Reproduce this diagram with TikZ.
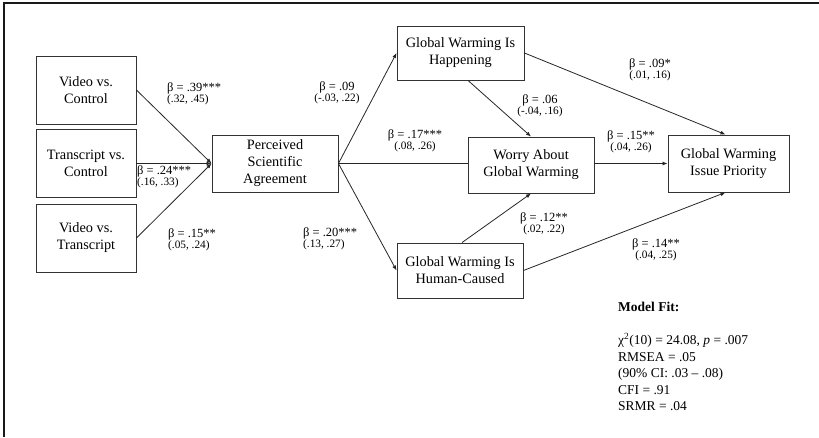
\documentclass[tikz,border=0pt]{standalone}
\usepackage{fontspec}
\setmainfont{Liberation Serif}
\usetikzlibrary{arrows.meta}
\tikzset{
  box/.style={draw=black!80, line width=0.9pt, fill=white, align=center, inner sep=0pt,
    font=\fontsize{14.3}{17}\selectfont, text=black},
  path/.style={draw=black!85, line width=0.8pt},
  arr/.style={path, -{Latex[length=5pt,width=4pt]}},
  lab/.style={align=center, inner sep=0pt, text=black},
  fit/.style={align=left, inner sep=0pt, anchor=north west, text=black,
    font=\fontsize{13.5}{16.5}\selectfont},
}
\newcommand{\bet}[2]{{\fontsize{12.5}{14}\selectfont #1}\\[-0.5pt]{\fontsize{11.3}{13}\selectfont #2}}
\begin{document}
\begin{tikzpicture}[x=1pt,y=-1pt]
\useasboundingbox (0,0) rectangle (819,437);
\draw[line width=1.5pt, black!90] (4,437) -- (4,3) -- (819,3);

\node[box, minimum width=100pt, minimum height=68pt] (vc) at (86,90) {Video vs.\\Control};
\node[box, minimum width=100pt, minimum height=68pt] (tc) at (86,163.5) {Transcript vs.\\Control};
\node[box, minimum width=100pt, minimum height=68pt] (vt) at (86,238) {Video vs.\\Transcript};
\node[box, minimum width=126pt, minimum height=57pt] (psa) at (275,163.5) {Perceived\\Scientific\\Agreement};
\node[box, minimum width=127pt, minimum height=54pt] (hap) at (460.5,53) {Global Warming Is\\Happening};
\node[box, minimum width=126pt, minimum height=55pt] (hum) at (460,270.5) {Global Warming Is\\Human-Caused};
\node[box, minimum width=126pt, minimum height=56pt] (wor) at (531,165) {Worry About\\Global Warming};
\node[box, minimum width=121pt, minimum height=57pt] (pri) at (728.5,163.5) {Global Warming\\Issue Priority};

\draw[arr] (vc.east) -- (psa.west);
\draw[arr] (tc.east) -- (psa.west);
\draw[arr] (vt.east) -- (psa.west);
\draw[arr] (psa.east) -- (hap.west);
\draw[arr] (psa.east) -- (hum.west);
\draw[path] (psa.east) -- (psa.east -| wor.west);
\draw[arr] ([xshift=7.5pt]hap.south) -- (wor.north);
\draw[arr] ([xshift=2pt]hum.north) -- (wor.north |- wor.south);
\draw[arr] (hap.east) -- ([xshift=-3pt]pri.north);
\draw[arr] (psa.east -| wor.east) -- (psa.east -| pri.west);
\draw[arr] (hum.east) -- ([xshift=-3pt]pri.south);

\node[lab, align=left, anchor=west] (l1) at (167,94) {\bet{β = .39***}{(.32, .45)}};
\node[lab, align=left, anchor=west] (l2) at (137,177) {\bet{β = .24***}{(.16, .33)}};
\node[lab, align=left, anchor=west] (l3) at (168,240) {\bet{β = .15**}{(.05, .24)}};
\node[lab] (l4) at (337,93) {\bet{β = .09}{(-.03, .22)}};
\node[lab, align=left, anchor=west] (l5) at (303,239) {\bet{β = .20***}{(.13, .27)}};
\node[lab] (l6) at (415,141) {\bet{β = .17***}{(.08, .26)}};
\node[lab] (l7) at (540,106) {\bet{β = .06}{(-.04, .16)}};
\node[lab] (l8) at (650,70) {\bet{β = .09*}{(.01, .16)}};
\node[lab] (l9) at (631,142) {\bet{β = .15**}{(.04, .26)}};
\node[lab] (l10) at (544,224) {\bet{β = .12**}{(.02, .22)}};
\node[lab] (l11) at (656,250) {\bet{β = .14**}{(.04, .25)}};

\node[fit] (mf) at (618,302) {\textbf{Model Fit:}\\[16.5pt]
χ\textsuperscript{2}(10) = 24.08, \textit{p} = .007\\
RMSEA = .05\\
(90\% CI: .03 – .08)\\
CFI = .91\\
SRMR = .04};
\end{tikzpicture}
\end{document}
